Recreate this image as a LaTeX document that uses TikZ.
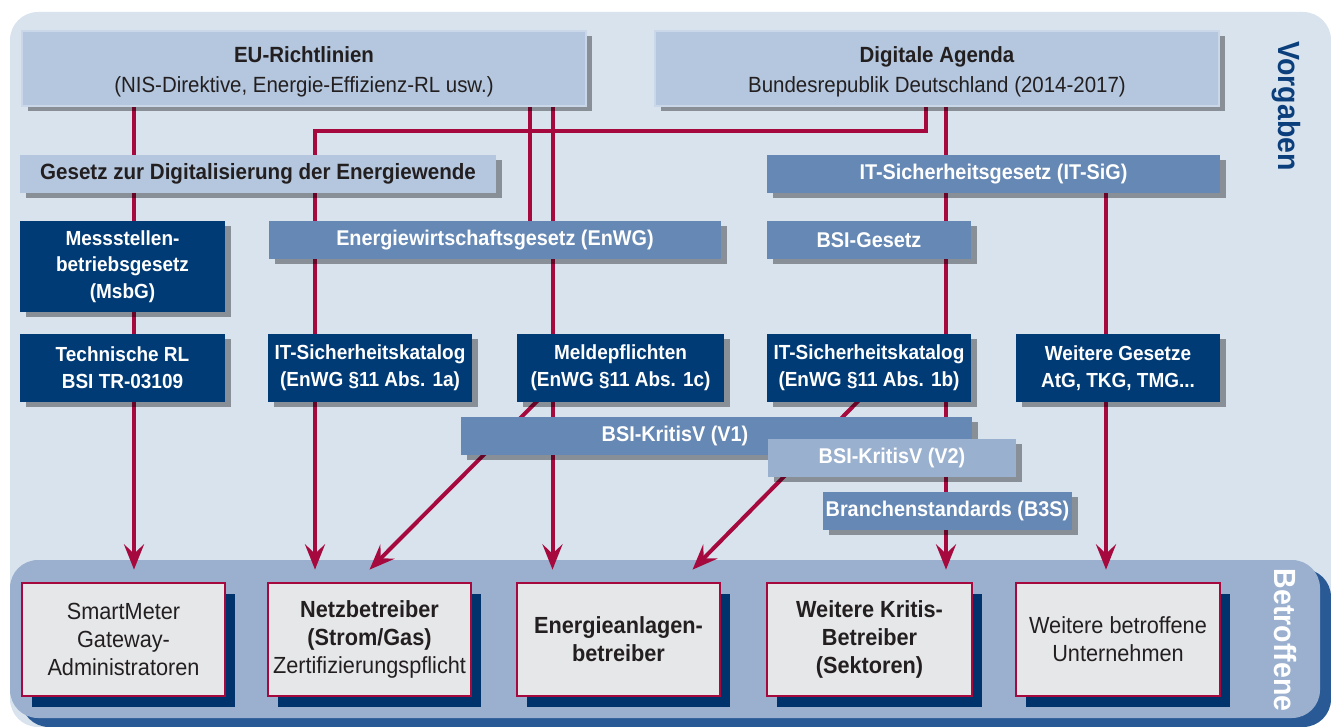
\documentclass[tikz,border=0pt]{standalone}
\usepackage{fontspec}
\setmainfont{Liberation Sans}[FakeStretch=0.93]
\usetikzlibrary{arrows.meta,shadows,calc}
\definecolor{panelc}{HTML}{D9E3EE}
\definecolor{lboxc}{HTML}{B4C7DE}
\definecolor{lrimc}{HTML}{C9D7E8}
\definecolor{mboxc}{HTML}{6688B4}
\definecolor{dboxc}{HTML}{003B76}
\definecolor{vboxc}{HTML}{99B0CF}
\definecolor{bpanelc}{HTML}{9AB0CE}
\definecolor{bshadc}{HTML}{2A5A96}
\definecolor{cshadc}{HTML}{00336B}
\definecolor{cardc}{HTML}{E6E7E9}
\definecolor{redc}{HTML}{A6093D}
\definecolor{txtc}{HTML}{231F20}
\definecolor{vorgc}{HTML}{0B3F7C}
\pgfdeclarelayer{bg}
\pgfdeclarelayer{lines}
\pgfsetlayers{bg,lines,main}
\tikzset{
  sz/.style 2 args={minimum width=#1*0.75pt, minimum height=#2*0.75pt},
  boxbase/.style={rectangle, inner sep=0pt, align=center,
     font=\fontsize{16}{20}\selectfont\bfseries,
     general shadow={fill=black, opacity=0.37, shadow xshift=4.5pt, shadow yshift=-3.75pt}},
  lightbox/.style={boxbase, fill=lboxc, text=txtc, font=\fontsize{16.6}{20}\selectfont\bfseries},
  topbox/.style={lightbox, draw=lrimc, line width=1.2pt, font=\fontsize{16.5}{22.5}\selectfont\bfseries},
  midbox/.style={boxbase, fill=mboxc, text=white},
  darkbox/.style={boxbase, fill=dboxc, text=white, font=\fontsize{15.3}{20}\selectfont\bfseries},
  vbox/.style={boxbase, fill=vboxc, text=white},
  card/.style={rectangle, inner sep=0pt, align=center, fill=cardc, draw=redc,
     line width=2pt, text=txtc, font=\fontsize{17.5}{21}\selectfont,
     general shadow={fill=cshadc, shadow xshift=7.5pt, shadow yshift=-8.25pt}},
  redline/.style={draw=redc, line width=3pt},
  redarrow/.style={redline, -{Stealth[length=19pt, width=15pt, inset=7pt]}},
  sidelabel/.style={font=\fontsize{23}{23}\selectfont\bfseries, rotate=-90, inner sep=0pt},
}
\begin{document}
\begin{tikzpicture}[x=0.75pt, y=-0.75pt]
\useasboundingbox (0,0) rectangle (1331,727);
\begin{pgfonlayer}{bg}
  \fill[panelc, rounded corners=21pt] (10,12) rectangle (1331,727);
  \fill[bshadc, rounded corners=21pt] (21,569) rectangle (1331,727);
  \fill[bpanelc, rounded corners=21pt] (10,560) rectangle (1320,718);
\end{pgfonlayer}

% top level
\node[topbox, sz={564}{75}] (eu) at (304,68.5)
  {\rule{0pt}{17pt}EU-Richtlinien\\{\mdseries (NIS-Direktive, Energie-Effizienz-RL usw.)}};
\node[topbox, sz={564}{75}] (da) at (937,68.5)
  {\rule{0pt}{17pt}Digitale Agenda\\{\mdseries Bundesrepublik Deutschland (2014-2017)}};
\node[sidelabel, text=vorgc] (vorg) at (1286,106) {Vorgaben};

% laws
\node[lightbox, sz={476}{38}] (gde) at (258,174) {Gesetz zur Digitalisierung der Energiewende};
\node[midbox, sz={453}{38}] (itsig) at (993.5,174) {IT-Sicherheitsgesetz (IT-SiG)};
\node[darkbox, sz={205}{91}] (msbg) at (122.5,266.5) {Messstellen-\\betriebsgesetz\\(MsbG)};
\node[midbox, sz={452}{38}] (enwg) at (495,240) {Energiewirtschaftsgesetz (EnWG)};
\node[midbox, sz={204}{38}] (bsig) at (869,240) {BSI-Gesetz};

% regulations row
\node[darkbox, sz={205}{68}] (tr) at (122.5,368) {Technische RL\\BSI TR-03109};
\node[darkbox, sz={204}{68}] (isk1) at (370,368) {IT-Sicherheitskatalog\\(EnWG §11 Abs. 1a)};
\node[darkbox, sz={207}{68}] (mp) at (620.5,368) {Meldepflichten\\(EnWG §11 Abs. 1c)};
\node[darkbox, sz={204}{68}] (isk2) at (869,368) {IT-Sicherheitskatalog\\(EnWG §11 Abs. 1b)};
\node[darkbox, sz={204}{68}] (wg) at (1118,368) {Weitere Gesetze\\AtG, TKG, TMG...};

% ordinances
\node[midbox, sz={511}{38}] (v1) at (716.5,436) {};
\node[font=\fontsize{16}{20}\selectfont\bfseries, text=white, inner sep=0pt] (v1t) at (675,436) {BSI-KritisV (V1)};
\node[vbox, sz={248}{38}] (v2) at (892,458) {BSI-KritisV (V2)};
\node[midbox, sz={249}{38}] (b3s) at (947.5,511) {Branchenstandards (B3S)};

% affected
\node[card, sz={203}{113}] (c1) at (123.5,639.5) {SmartMeter\\Gateway-\\Administratoren};
\node[card, sz={203}{113}] (c2) at (369.5,639.5) {\textbf{Netzbetreiber}\\\textbf{(Strom/Gas)}\\Zertifizierungspflicht};
\node[card, sz={203}{113}] (c3) at (618.5,639.5) {\textbf{Energieanlagen-}\\\textbf{betreiber}};
\node[card, sz={205}{113}] (c4) at (869.5,639.5) {\textbf{Weitere Kritis-}\\\textbf{Betreiber}\\\textbf{(Sektoren)}};
\node[card, sz={204}{113}] (c5) at (1118,639.5) {Weitere betroffene\\Unternehmen};
\node[sidelabel, text=white] (betr) at (1285,640) {Betroffene};

% connectors
\coordinate (t1) at ($(c1.north)+(10.5,-12)$);
\coordinate (t2) at ($(c2.north)+(-54.5,-12)$);
\coordinate (t3) at ($(c3.north)+(-66,-12)$);
\coordinate (t4) at ($(c4.north)+(76.5,-12)$);
\coordinate (t5) at ($(c5.north)+(-12,-12)$);
\coordinate (t6) at ($(c2.north)+(0,-12)$);
\coordinate (t7) at ($(c3.north)+(74,-12)$);
\coordinate (j1) at ($(da.south)+(-11,24)$);
\coordinate (x3) at ($(eu.south)+(226,0)$);
\coordinate (s1) at ($(mp.south)+(-80.5,-4)$);
\coordinate (s2) at ($(isk2.south)+(-8,-4)$);
\begin{pgfonlayer}{lines}
  \draw[redarrow] (eu.south -| t1) -- (t1);
  \draw[redarrow] (da.south -| j1) -- (j1) -- (j1 -| t2) -- (t2);
  \draw[redline] (x3) -- (enwg.north -| x3);
  \draw[redarrow] (eu.south -| t3) -- (t3);
  \draw[redarrow] (da.south -| t4) -- (t4);
  \draw[redarrow] (itsig.south -| t5) -- (t5);
  \draw[redarrow] (s1) -- (t6);
  \draw[redarrow] (s2) -- (t7);
\end{pgfonlayer}
\end{tikzpicture}
\end{document}
